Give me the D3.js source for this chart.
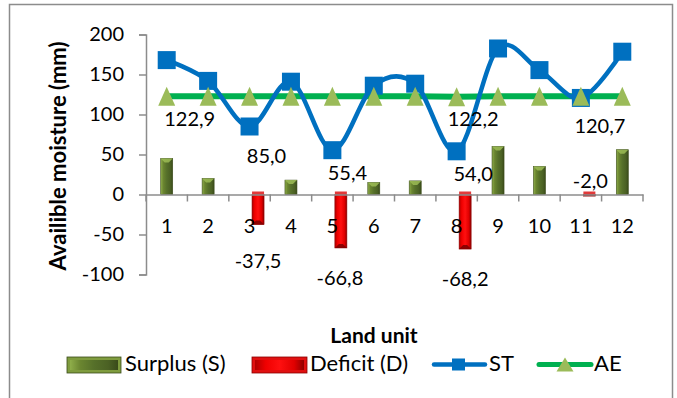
<!DOCTYPE html>
<html>
<head>
<meta charset="utf-8">
<script src="https://cdn.jsdelivr.net/npm/d3@7"></script>
<style>
  html, body { margin: 0; padding: 0; background: #fff; }
  svg { display: block; font-family: Lato, "Open Sans", sans-serif; }
</style>
</head>
<body>
<svg id="chart" width="677" height="398"></svg>
<script>
// Water balance per land unit
const units   = [1, 2, 3, 4, 5, 6, 7, 8, 9, 10, 11, 12];
const surplus = [45, 20, 0, 18, 0, 15, 17, 0, 60, 35, 0, 56];
const deficit = [0, 0, -37.5, 0, -66.8, 0, 0, -68.2, 0, 0, -2.0, 0];
const st      = [168, 142, 85.0, 141, 55.4, 136, 138.5, 54.0, 182.5, 155.5, 120.7, 178.5];
const ae      = [122.9, 122.7, 122.7, 122.7, 122.7, 122.7, 122.7, 122.2, 122.7, 122.7, 122.7, 122.7];
const yTicks  = [-100, -50, 0, 50, 100, 150, 200];

// Which values carry a printed label, and where the label sits relative to its mark
const valueLabels = [
  { series: "AE", i: 0,  dx: 23,   dy: 22 },
  { series: "ST", i: 2,  dx: 17,   dy: 28.5 },
  { series: "ST", i: 4,  dx: 15,   dy: 22 },
  { series: "ST", i: 7,  dx: 16.5, dy: 22 },
  { series: "AE", i: 7,  dx: 16.5, dy: 21 },
  { series: "ST", i: 10, dx: 19,   dy: 27 },
  { series: "D",  i: 2,  dx: 0,    dy: 35.5 },
  { series: "D",  i: 4,  dx: -1,   dy: 29 },
  { series: "D",  i: 7,  dx: 0,    dy: 29 },
  { series: "D",  i: 10, dx: 1,    dy: -16 }
];

const svg = d3.select("#chart");
const defs = svg.append("defs");

// Gradients giving the bars a bevelled look
function hGrad(id, stops) {
  const g = defs.append("linearGradient").attr("id", id)
    .attr("x1", "0%").attr("x2", "100%").attr("y1", "0%").attr("y2", "0%");
  stops.forEach(([o, c]) => g.append("stop").attr("offset", o).attr("stop-color", c));
}
hGrad("gS", [["0%", "#8fae4a"], ["22%", "#6a8530"], ["50%", "#56702a"], ["80%", "#4b6124"], ["100%", "#3a4b1a"]]);
hGrad("gD", [["0%", "#b00000"], ["22%", "#f00000"], ["50%", "#ff1010"], ["80%", "#e00000"], ["100%", "#900000"]]);

// Chart frame
svg.append("rect").attr("x", 9.5).attr("y", 4.5).attr("width", 663).attr("height", 420)
  .attr("fill", "#fff").attr("stroke", "#8c8c8c").attr("stroke-width", 1.5);

const x = d3.scaleBand().domain(units).range([146, 643]).padding(0);
const y = d3.scaleLinear().domain([-100, 200]).range([274.5, 34.5]);
const cx = u => x(u) + x.bandwidth() / 2;
const barW = 12;
const defShift = 8.5;

// Axes
const yAxis = d3.axisLeft(y).tickValues(yTicks).tickSize(7).tickPadding(15).tickFormat(d3.format("d"));
const gy = svg.append("g").attr("transform", "translate(146,0)").call(yAxis);
gy.select(".domain").attr("stroke", "#8c8c8c").attr("stroke-width", 1.5);
gy.selectAll(".tick line").attr("stroke", "#8c8c8c").attr("stroke-width", 1.5);
gy.selectAll(".tick text").attr("font-size", 20).attr("fill", "#000")
  .attr("font-family", "Lato").text(d => d3.format("d")(d).replace("−", "-"));

// Bars (drawn before the x axis line so the baseline sits on top)
function bevelBar(g, xc, v, fillId, edge, capLight) {
  const y0 = y(0), y1 = y(v);
  const top = Math.min(y0, y1), h = Math.abs(y1 - y0);
  g.append("rect").attr("x", xc - barW / 2).attr("y", top).attr("width", barW).attr("height", h)
    .attr("fill", `url(#${fillId})`).attr("stroke", edge).attr("stroke-width", 0.6);
  // small pyramid cap at the bar's outer end
  const endY = v >= 0 ? top : top + h;
  const s = v >= 0 ? 1 : -1;
  const c = Math.min(4, h / 2);
  g.append("path")
    .attr("d", `M${xc - barW / 2},${endY} L${xc + barW / 2},${endY} L${xc + barW / 2 - c},${endY + s * c} L${xc - barW / 2 + c},${endY + s * c}Z`)
    .attr("fill", capLight).attr("opacity", 0.85);
}
const gBars = svg.append("g");
units.forEach((u, i) => {
  if (surplus[i] !== 0) bevelBar(gBars, cx(u), surplus[i], "gS", "#3a4b1a", "#9cbc55");
  if (deficit[i] !== 0) {
    bevelBar(gBars, cx(u) + defShift, deficit[i], "gD", "#8a0000", "#7a0000");
    // bevel lip at the zero line
    gBars.append("rect").attr("x", cx(u) + defShift - barW / 2).attr("y", y(0) - 3)
      .attr("width", barW).attr("height", 3).attr("fill", "#e23a3a");
  }
});

const xAxis = d3.axisBottom(x).tickSize(0).tickPadding(24);
const gx = svg.append("g").attr("transform", `translate(0,${y(0)})`).call(xAxis);
gx.select(".domain").attr("stroke", "#8c8c8c").attr("stroke-width", 1.5);
gx.selectAll(".tick text").attr("font-size", 20).attr("fill", "#000").attr("font-family", "Lato");
// tick marks on category boundaries
const bounds = units.map(u => x(u)).concat([x.range()[1]]);
svg.append("g").selectAll("line").data(bounds).join("line")
  .attr("x1", d => d).attr("x2", d => d).attr("y1", y(0)).attr("y2", y(0) + 7)
  .attr("stroke", "#8c8c8c").attr("stroke-width", 1.5);

// Lines
const stLine = d3.line().x((d, i) => cx(units[i])).y(d => y(d)).curve(d3.curveCardinal.tension(0));
const aeLine = d3.line().x((d, i) => cx(units[i])).y(d => y(d));
svg.append("path").attr("d", aeLine(ae)).attr("fill", "none").attr("stroke", "#00b050").attr("stroke-width", 6);
svg.append("path").attr("d", stLine(st)).attr("fill", "none").attr("stroke", "#0070c0").attr("stroke-width", 4.5)
  .attr("stroke-linejoin", "round");

// Markers
const sq = 18;
svg.append("g").selectAll("rect").data(st).join("rect")
  .attr("x", (d, i) => cx(units[i]) - sq / 2).attr("y", d => y(d) - sq / 2)
  .attr("width", sq).attr("height", sq).attr("fill", "#0070c0");
const triW = 17, triH = 19;
svg.append("g").selectAll("path").data(ae).join("path")
  .attr("d", (d, i) => {
    const px = cx(units[i]), py = y(d);
    return `M${px},${py - triH / 2} L${px + triW / 2},${py + triH / 2} L${px - triW / 2},${py + triH / 2}Z`;
  })
  .attr("fill", "#9bbb59");

// Value labels
const seriesData = { ST: st, AE: ae, D: deficit };
const fmt = v => d3.format(".1f")(v).replace(".", ",").replace("−", "-");
svg.append("g").selectAll("text").data(valueLabels).join("text")
  .attr("x", d => cx(units[d.i]) + (d.series === "D" ? defShift : 0) + d.dx)
  .attr("y", d => y(seriesData[d.series][d.i]) + d.dy)
  .attr("text-anchor", "middle").attr("dominant-baseline", "central")
  .attr("font-size", 20).attr("fill", "#000")
  .text(d => fmt(seriesData[d.series][d.i]));

// Axis titles
svg.append("text").attr("transform", "translate(66,156) rotate(-90)")
  .attr("text-anchor", "middle").attr("font-weight", "bold").attr("font-size", 22)
  .text("Availible moisture (mm)");
svg.append("text").attr("x", 374).attr("y", 343)
  .attr("text-anchor", "middle").attr("font-weight", "bold").attr("font-size", 21)
  .text("Land unit");

// Legend
const lg = svg.append("g");
function swatch(x0, w, fillId, edge, light) {
  const y0 = 357, h = 16, b = 3;
  lg.append("rect").attr("x", x0).attr("y", y0).attr("width", w).attr("height", h).attr("fill", light);
  lg.append("rect").attr("x", x0 + b).attr("y", y0 + b).attr("width", w - 2 * b).attr("height", h - 2 * b)
    .attr("fill", `url(#${fillId})`);
  lg.append("rect").attr("x", x0).attr("y", y0).attr("width", w).attr("height", h)
    .attr("fill", "none").attr("stroke", edge).attr("stroke-width", 0.8);
}
swatch(67, 54, "gS", "#3a4b1a", "#7f9c3e");
lg.append("text").attr("x", 125).attr("y", 371).attr("font-size", 22).text("Surplus (S)");
swatch(252, 55, "gD", "#8a0000", "#e01010");
lg.append("text").attr("x", 310).attr("y", 371).attr("font-size", 22).text("Deficit (D)");

lg.append("line").attr("x1", 434).attr("x2", 485).attr("y1", 364.5).attr("y2", 364.5)
  .attr("stroke", "#0070c0").attr("stroke-width", 4.5).attr("stroke-linecap", "round");
lg.append("rect").attr("x", 452).attr("y", 358.5).attr("width", 13).attr("height", 12).attr("fill", "#0070c0");
lg.append("text").attr("x", 489).attr("y", 371).attr("font-size", 22).text("ST");

lg.append("line").attr("x1", 539).attr("x2", 591).attr("y1", 364.5).attr("y2", 364.5)
  .attr("stroke", "#00b050").attr("stroke-width", 5).attr("stroke-linecap", "round");
lg.append("path").attr("d", "M565,357.5 L573.5,371.5 L556.5,371.5Z").attr("fill", "#9bbb59");
lg.append("text").attr("x", 594).attr("y", 371).attr("font-size", 22).text("AE");
</script>
</body>
</html>
